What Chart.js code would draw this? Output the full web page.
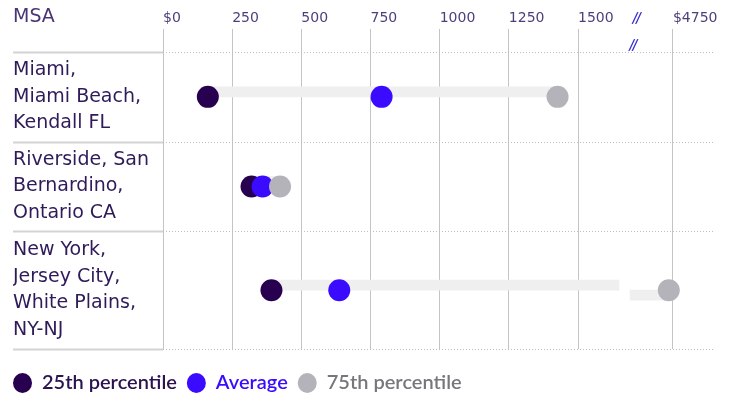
<!DOCTYPE html>
<html>
<head>
<meta charset="utf-8">
<title>MSA percentiles</title>
<script src="https://cdn.jsdelivr.net/npm/chart.js@4"></script>
<style>
  body { margin: 0; background: #fff; }
  .wrap { width: 733px; height: 398px; }
</style>
</head>
<body>
<div class="wrap"><canvas id="myChart"></canvas></div>
<script>
const msas = [
  ['Miami,', 'Miami Beach,', 'Kendall FL'],
  ['Riverside, San', 'Bernardino,', 'Ontario CA'],
  ['New York,', 'Jersey City,', 'White Plains,', 'NY-NJ']
];
const p25 = [162, 320, 392];
const average = [790, 360, 637];
const p75 = [1426, 423, 4735];
const tickValues = [0, 250, 500, 750, 1000, 1250, 1500, 4750];
const tickLabels = ['$0', '250', '500', '750', '1000', '1250', '1500', '$4750'];
const seriesNames = ['25th percentile', 'Average', '75th percentile'];
const seriesColors = ['#27004f', '#3b0bff', '#b4b3b9'];
const legendColors = ['#2b1250', '#3b0bff', '#77767c'];

// axis break: anything past the break is pulled left so $4750 sits just after 1500
const breakStart = 1648, breakEnd = 1688;
const brokenShift = 4750 - 1843;
const pos = v => v <= breakStart ? v : v - brokenShift;

// rows get taller when the label needs more lines
const rowSize = msas.map(l => l.length * 28 + 6);
const rowTop = rowSize.map((s, i) => rowSize.slice(0, i).reduce((a, b) => a + b, 0));
const rowMid = rowTop.map((t, i) => t + rowSize[i] / 2);
const rowsTotal = rowSize.reduce((a, b) => a + b, 0);

const rangeBars = p25.map((v, i) => ({ x: [pos(v), Math.min(pos(p75[i]), breakStart)], y: rowMid[i] }));
const rangeBarsAfter = p75.map((v, i) => v > breakStart ? { x: [breakEnd, pos(v)], y: rowMid[i] } : null).filter(Boolean);

const dots = (values, i) => ({
  type: 'scatter',
  label: seriesNames[i],
  data: values.map((v, r) => ({ x: pos(v), y: rowMid[r] })),
  backgroundColor: seriesColors[i],
  borderWidth: 0,
  pointRadius: 11,
  pointHoverRadius: 11,
  order: 2 - i
});

const decor = {
  id: 'decor',
  afterLayout(chart) {
    // legend sits flush with the row labels, a bit lower than the layout puts it
    const lg = chart.legend;
    lg.left -= 10;
    lg.top += 14;
    lg.bottom += 14;
  },
  beforeDatasetsDraw(chart) {
    const { ctx, chartArea, scales: { y } } = chart;
    ctx.save();
    [...rowTop, rowsTotal].forEach(v => {
      const py = Math.round(y.getPixelForValue(v)) + 0.5;
      ctx.beginPath();
      ctx.strokeStyle = '#d3d3d3';
      ctx.lineWidth = 2;
      ctx.setLineDash([]);
      ctx.moveTo(y.left, py);
      ctx.lineTo(chartArea.left, py);
      ctx.stroke();
      ctx.beginPath();
      ctx.strokeStyle = '#bdbdbd';
      ctx.lineWidth = 1;
      ctx.setLineDash([1, 2]);
      ctx.moveTo(chartArea.left, py);
      ctx.lineTo(chartArea.right, py);
      ctx.stroke();
    });
    ctx.restore();
  },
  afterDraw(chart) {
    const { ctx, scales: { x, y } } = chart;
    ctx.save();
    ctx.textBaseline = 'middle';
    ctx.font = '19px "DejaVu Sans"';
    ctx.fillStyle = '#4b3476';
    ctx.textAlign = 'left';
    ctx.fillText('MSA', y.left, 17);
    ctx.font = 'italic bold 15px Lato';
    ctx.fillStyle = '#3a2fd0';
    ctx.textAlign = 'center';
    ctx.fillText('//', x.getPixelForValue(1712), 18);
    ctx.fillText('//', x.getPixelForValue(1700), 45);
    ctx.restore();
  }
};

const ctx = document.getElementById('myChart').getContext('2d');
const chart = new Chart(ctx, {
  type: 'bar',
  data: {
    datasets: [
      dots(p25, 0),
      dots(average, 1),
      dots(p75, 2),
      {
        label: 'range',
        data: rangeBars,
        backgroundColor: '#efefef',
        barThickness: 10,
        borderWidth: 0,
        order: 5
      },
      {
        label: 'range2',
        data: rangeBarsAfter,
        backgroundColor: '#efefef',
        barThickness: 10,
        borderWidth: 0,
        order: 6
      }
    ]
  },
  options: {
    indexAxis: 'y',
    responsive: true,
    maintainAspectRatio: false,
    animation: false,
    devicePixelRatio: 1,
    layout: {
      padding: { left: 13, right: 18, top: 0, bottom: 9 }
    },
    plugins: {
      tooltip: { enabled: false },
      legend: {
        position: 'bottom',
        align: 'start',
        labels: {
          usePointStyle: true,
          pointStyleWidth: 19,
          boxHeight: 14,
          padding: 10,
          font: { family: 'Lato', size: 20, weight: '600' },
          generateLabels: () => seriesNames.map((name, i) => ({
            text: name,
            fillStyle: seriesColors[i],
            strokeStyle: seriesColors[i],
            fontColor: legendColors[i],
            lineWidth: 0,
            pointStyle: 'circle',
            datasetIndex: i
          }))
        }
      }
    },
    scales: {
      x: {
        type: 'linear',
        position: 'top',
        offset: false,
        min: 0,
        max: 1995,
        afterBuildTicks: scale => {
          scale.ticks = tickValues.map(v => ({ value: pos(v) }));
        },
        afterFit: scale => { scale.height = 52; },
        ticks: {
          autoSkip: false,
          maxRotation: 0,
          align: 'start',
          padding: 2,
          color: '#4f3e7c',
          font: { family: 'DejaVu Sans', size: 14 },
          callback: (value, index) => tickLabels[index]
        },
        grid: {
          offset: false,
          color: '#c4c4c4',
          tickColor: '#c4c4c4',
          tickLength: 23,
          lineWidth: 1
        },
        border: { display: false }
      },
      y: {
        type: 'linear',
        offset: false,
        reverse: true,
        min: 0,
        max: rowsTotal,
        afterBuildTicks: scale => {
          scale.ticks = rowMid.map(v => ({ value: v }));
        },
        afterFit: scale => {
          scale.width = 150;
          // labels fit inside their rows, no extra room needed above or below
          scale.paddingTop = 0;
          scale.paddingBottom = 0;
        },
        ticks: {
          crossAlign: 'far',
          color: '#2f1a5a',
          font: { family: 'DejaVu Sans', size: 19, lineHeight: 1.4 },
          callback: (value, index) => msas[index]
        },
        grid: { display: false, offset: false },
        border: { display: false }
      }
    }
  },
  plugins: [decor]
});
</script>
</body>
</html>
